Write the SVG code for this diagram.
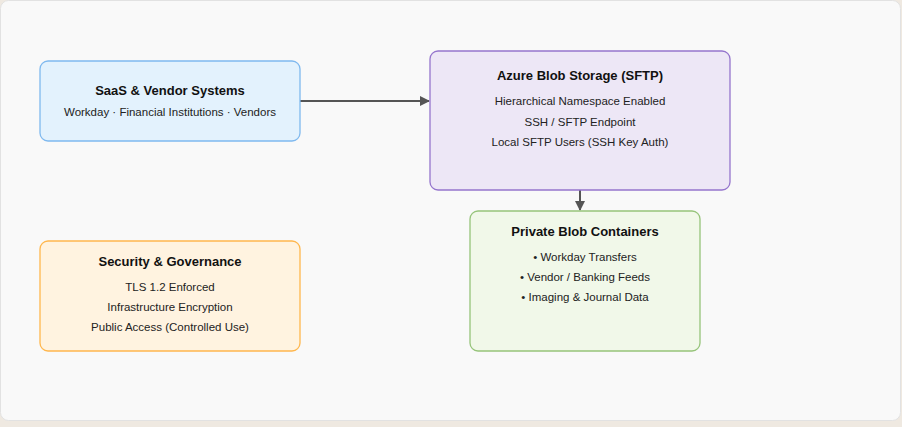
<svg xmlns="http://www.w3.org/2000/svg" width="902" height="427" viewBox="0 0 902 427">
<style>
text{font-family:"Liberation Sans",Arial,sans-serif;text-anchor:middle;fill:#222}
.t{font-size:13px;font-weight:bold;fill:#111}
.s{font-size:11.5px}
.c{stroke:#555;stroke-width:2;fill:none}
</style>
<defs><marker id="a" viewBox="0 0 10 10" refX="9" refY="5" markerWidth="5" markerHeight="5" orient="auto"><path d="M0,0L10,5L0,10z" fill="#555"/></marker></defs>
<rect width="902" height="427" fill="#efe9e1"/>
<rect x="0.5" y="0.5" width="900" height="420" rx="8" fill="#f9f9f9" stroke="#e2e2e2"/>
<g id="connectors">
<line class="c" x1="300" y1="101" x2="429" y2="101" marker-end="url(#a)"/>
<line class="c" x1="580" y1="190" x2="580" y2="210" marker-end="url(#a)"/>
</g>
<g id="saas"><rect x="40" y="61" width="260" height="80" rx="8" fill="#e3f2fd" stroke="#7fb9ef" stroke-width="1.3"/>
<text class="t" x="170" y="95">SaaS &amp; Vendor Systems</text>
<text class="s" x="170" y="116">Workday · Financial Institutions · Vendors</text></g>
<g id="azure"><rect x="430" y="51" width="300" height="139" rx="8" fill="#ede7f6" stroke="#9575cd" stroke-width="1.3"/>
<text class="t" x="580" y="80">Azure Blob Storage (SFTP)</text>
<text class="s" x="580" y="105">Hierarchical Namespace Enabled</text>
<text class="s" x="580" y="126">SSH / SFTP Endpoint</text>
<text class="s" x="580" y="146">Local SFTP Users (SSH Key Auth)</text></g>
<g id="private"><rect x="470" y="211" width="230" height="140" rx="8" fill="#f1f8e9" stroke="#96c47a" stroke-width="1.3"/>
<text class="t" x="585" y="236">Private Blob Containers</text>
<text class="s" x="585" y="261">• Workday Transfers</text>
<text class="s" x="585" y="281">• Vendor / Banking Feeds</text>
<text class="s" x="585" y="301">• Imaging &amp; Journal Data</text></g>
<g id="security"><rect x="40" y="241" width="260" height="110" rx="8" fill="#fff3e0" stroke="#ffb74d" stroke-width="1.3"/>
<text class="t" x="170" y="266">Security &amp; Governance</text>
<text class="s" x="170" y="291">TLS 1.2 Enforced</text>
<text class="s" x="170" y="311">Infrastructure Encryption</text>
<text class="s" x="170" y="331">Public Access (Controlled Use)</text></g>
</svg>
